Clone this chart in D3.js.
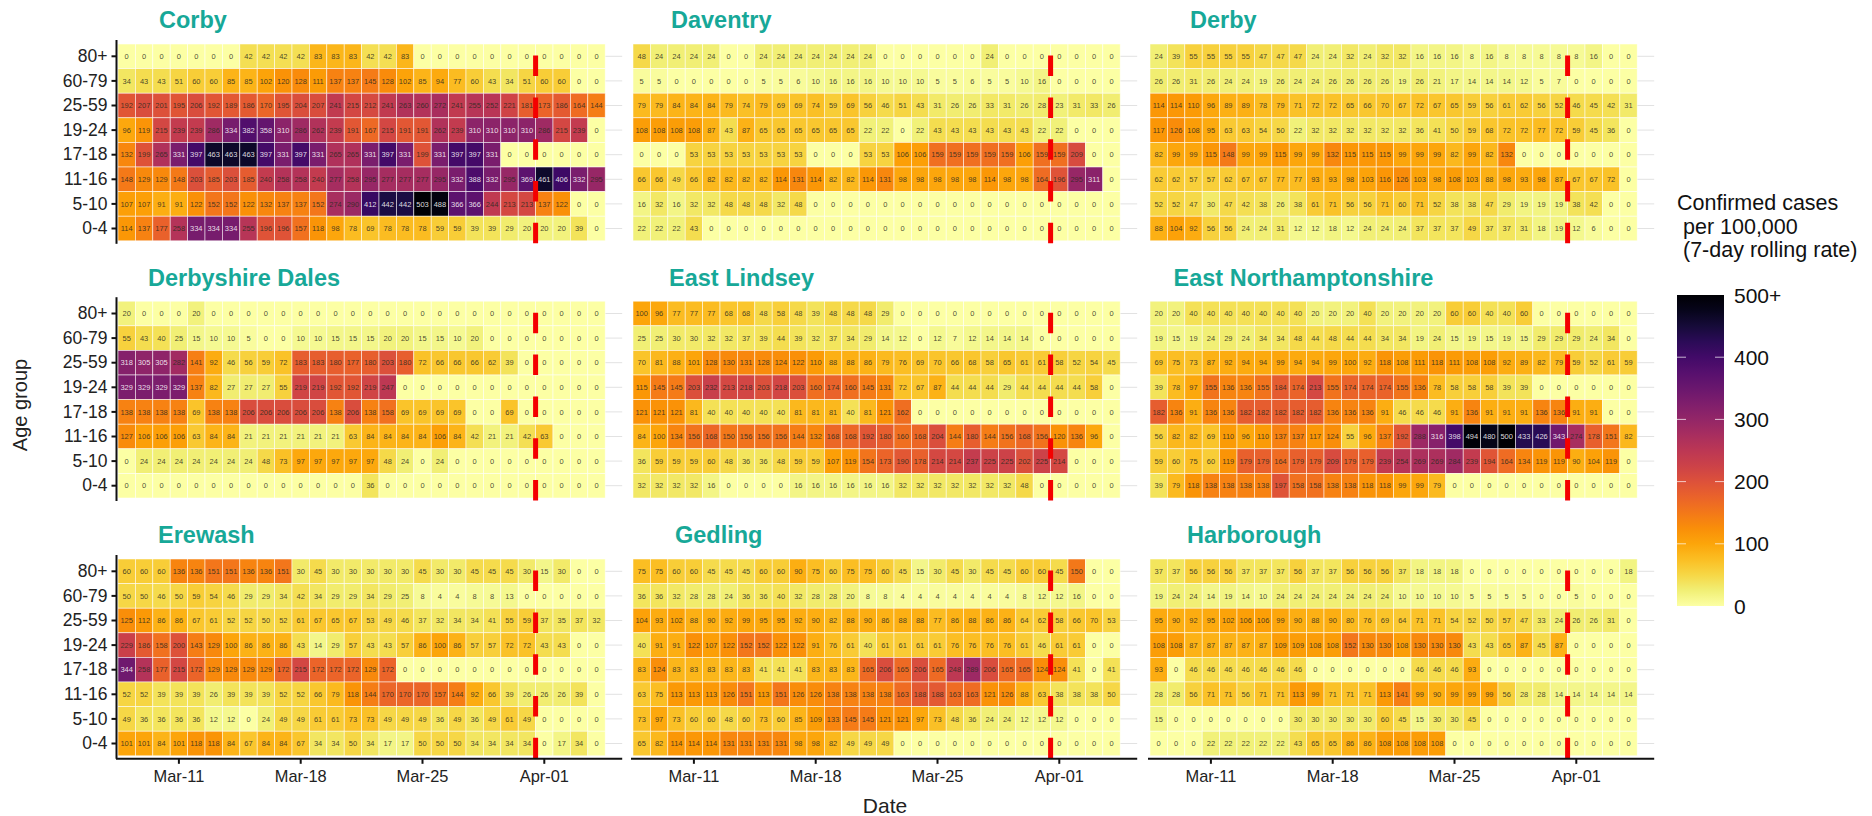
<!DOCTYPE html>
<html>
<head>
<meta charset="utf-8">
<script src="https://cdn.jsdelivr.net/npm/d3@7"></script>
<style>
    html, body { margin: 0; background: #fff; }
    svg { display: block; }
    text { font-family: "Liberation Sans", Arial, sans-serif; }
    .axis path, .axis line { stroke: #111; stroke-width: 2; }
    .axis text { font-size: 16.4px; fill: #222; }
</style>
</head>
<body>
<svg id="chart" width="1872" height="816"></svg>
<script>
const ageGroups = ["80+", "60-79", "25-59", "19-24", "17-18", "11-16", "5-10", "0-4"];
const dates = ["Mar-08", "Mar-09", "Mar-10", "Mar-11", "Mar-12", "Mar-13", "Mar-14", "Mar-15", "Mar-16", "Mar-17",
    "Mar-18", "Mar-19", "Mar-20", "Mar-21", "Mar-22", "Mar-23", "Mar-24", "Mar-25", "Mar-26", "Mar-27",
    "Mar-28", "Mar-29", "Mar-30", "Mar-31", "Apr-01", "Apr-02", "Apr-03", "Apr-04"];
const dateTicks = ["Mar-11", "Mar-18", "Mar-25", "Apr-01"];
const legendTicks = [0, 100, 200, 300, 400, 500];
const legendTitle = ["Confirmed cases", " per 100,000", " (7-day rolling rate)"];
const districts = ["Corby", "Daventry", "Derby", "Derbyshire Dales", "East Lindsey", "East Northamptonshire", "Erewash", "Gedling", "Harborough"];

// one row per age group, top to bottom, one value per day
const corby = [
    [0,0,0,0,0,0,0,42,42,42,42,83,83,83,42,42,83,0,0,0,0,0,0,0,0,0,0,0],
    [34,43,43,51,60,60,85,85,102,120,128,111,137,137,145,128,102,85,94,77,60,43,34,51,60,60,0,0],
    [192,207,201,195,206,192,189,186,170,195,204,207,241,215,212,241,263,260,272,241,255,252,221,181,173,186,164,144],
    [96,119,215,239,239,286,334,382,358,310,286,262,239,191,167,215,191,191,262,239,310,310,310,310,286,215,239,0],
    [132,199,265,331,397,463,463,463,397,331,397,331,265,265,331,397,331,199,331,397,397,331,0,0,0,0,0,0],
    [148,129,129,148,203,185,203,185,240,258,258,240,277,258,295,277,277,277,295,332,388,332,295,369,461,406,332,295],
    [107,107,91,91,122,152,152,122,132,137,137,152,274,290,412,442,442,503,488,366,366,244,213,213,137,122,0,0],
    [114,137,177,258,334,334,334,255,196,196,157,118,98,78,69,78,78,78,59,59,39,39,29,20,20,20,39,0]
];
const daventry = [
    [48,24,24,24,24,0,0,24,24,24,24,24,24,24,0,0,0,0,0,0,24,0,0,0,0,0,0,0],
    [5,5,0,0,0,0,0,5,5,6,10,16,16,16,10,10,10,5,5,6,5,5,10,16,0,0,0,0],
    [79,79,84,84,84,79,74,79,69,69,74,59,69,56,46,51,43,31,26,26,33,31,26,28,23,31,33,26],
    [108,108,108,108,87,43,87,65,65,65,65,65,65,22,22,0,22,43,43,43,43,43,43,22,22,0,0,0],
    [0,0,0,53,53,53,53,53,53,53,0,0,0,53,53,106,106,159,159,159,159,159,106,159,159,209,0,0],
    [66,66,49,66,82,82,82,82,114,131,114,82,82,114,131,98,98,98,98,98,114,98,98,164,196,295,311,0],
    [16,32,16,32,32,48,48,48,32,48,0,0,0,0,0,0,0,0,0,0,0,0,0,0,0,0,0,0],
    [22,22,22,43,0,0,0,0,0,0,0,0,0,0,0,0,0,0,0,0,0,0,0,0,0,0,0,0]
];
const derby = [
    [24,39,55,55,55,55,47,47,47,24,24,32,24,32,32,16,16,16,8,16,8,8,8,8,8,16,0,0],
    [26,26,31,26,24,24,19,26,24,24,26,26,26,26,19,26,21,17,14,14,14,12,5,7,0,0,0,0],
    [114,114,110,96,89,89,78,79,71,72,72,65,66,70,67,72,67,65,59,56,61,62,56,52,46,45,42,31],
    [117,126,108,95,63,63,54,50,22,32,32,32,32,32,32,36,41,50,59,68,72,72,77,72,59,45,36,0],
    [82,99,99,115,148,99,99,115,99,99,132,115,115,115,99,99,99,82,99,82,132,0,0,0,0,0,0,0],
    [62,62,57,57,62,67,67,77,77,93,93,98,103,116,126,103,98,108,103,88,98,93,98,87,67,67,72,0],
    [52,52,47,30,47,42,38,26,38,61,71,56,56,71,60,71,52,38,38,47,29,19,19,19,38,42,0,0],
    [88,104,92,56,56,24,24,31,12,12,18,12,24,24,24,37,37,37,49,37,37,31,18,19,12,6,0,0]
];
const derbyshireDales = [
    [20,0,0,0,20,0,0,0,0,0,0,0,0,0,0,0,0,0,0,0,0,0,0,0,0,0,0,0],
    [55,43,40,25,15,10,10,5,0,0,10,10,15,15,15,20,20,15,15,10,20,0,0,0,0,0,0,0],
    [318,305,305,282,141,92,46,56,59,72,183,183,180,177,180,203,180,72,66,66,66,62,39,0,0,0,0,0],
    [329,329,329,329,137,82,27,27,27,55,219,219,192,192,219,247,0,0,0,0,0,0,0,0,0,0,0,0],
    [138,138,138,138,69,138,138,206,206,206,206,206,138,206,138,158,69,69,69,69,0,0,69,0,0,0,0,0],
    [127,106,106,106,63,84,84,21,21,21,21,21,21,63,84,84,84,84,106,84,42,21,21,42,63,0,0,0],
    [0,24,24,24,24,24,24,24,48,73,97,97,97,97,97,48,24,0,24,0,0,0,0,0,0,0,0,0],
    [0,0,0,0,0,0,0,0,0,0,0,0,0,0,36,0,0,0,0,0,0,0,0,0,0,0,0,0]
];
const eastLindsey = [
    [100,96,77,77,77,68,68,48,58,48,39,48,48,48,29,0,0,0,0,0,0,0,0,0,0,0,0,0],
    [25,25,30,30,32,32,37,39,44,39,32,37,34,29,14,12,0,12,7,12,14,14,14,0,0,0,0,0],
    [70,81,88,101,128,130,131,128,124,122,110,88,88,86,79,76,69,70,66,68,58,65,61,61,58,52,54,45],
    [115,145,145,203,232,213,218,203,218,203,160,174,160,145,131,72,67,87,44,44,44,29,44,44,44,44,58,0],
    [121,121,121,81,40,40,40,40,40,81,81,81,40,81,121,162,0,0,0,0,0,0,0,0,0,0,0,0],
    [84,100,134,156,168,150,156,156,156,144,132,168,168,192,180,160,168,204,144,180,144,156,168,156,120,136,96,0],
    [36,59,59,59,60,48,36,36,48,59,59,107,119,154,173,190,178,214,214,237,225,225,202,225,214,0,0,0],
    [32,32,32,32,16,0,0,0,0,16,16,16,16,16,16,32,32,32,32,32,32,32,48,0,0,0,0,0]
];
const eastNorthamptonshire = [
    [20,20,40,40,40,40,40,40,40,20,20,20,40,20,20,20,20,60,60,40,40,60,0,0,0,0,0,0],
    [19,15,19,24,29,24,34,34,48,44,48,44,44,34,34,19,24,15,19,15,19,15,29,29,29,24,34,0],
    [69,75,73,87,92,94,94,99,94,94,99,100,92,118,108,111,118,111,108,108,92,89,82,79,59,52,61,59],
    [39,78,97,155,136,136,155,184,174,213,155,174,174,174,155,136,78,58,58,58,39,39,0,0,0,0,0,0],
    [182,136,91,136,136,182,182,182,182,182,136,136,136,91,46,46,46,91,136,91,91,91,136,136,91,91,0,0],
    [56,82,82,69,110,96,110,137,137,117,124,55,96,137,192,288,316,398,494,480,500,433,426,343,274,178,151,82],
    [59,60,75,60,119,179,179,164,179,179,209,179,179,239,254,269,269,284,239,194,164,134,119,119,90,104,119,0],
    [39,79,118,138,138,138,138,197,158,158,138,138,118,118,99,99,79,0,0,0,0,0,0,0,0,0,0,0]
];
const erewash = [
    [60,60,60,136,136,151,151,136,136,151,30,45,30,30,30,30,30,45,30,30,45,45,45,30,15,30,0,0],
    [50,50,46,50,59,54,46,29,29,34,42,34,29,29,34,29,25,8,4,4,8,8,13,0,0,0,0,0],
    [125,112,86,86,67,61,52,52,50,52,61,67,65,67,53,49,46,37,32,34,34,41,55,59,37,35,37,32],
    [229,186,158,200,143,129,100,86,86,86,43,14,29,57,43,43,57,86,100,86,57,57,72,72,43,43,0,0],
    [344,258,177,215,172,129,129,129,129,172,215,172,172,172,129,172,0,0,0,0,0,0,0,0,0,0,0,0],
    [52,52,39,39,39,26,39,39,39,52,52,66,79,118,144,170,170,170,157,144,92,66,39,26,26,26,39,0],
    [49,36,36,36,36,12,12,0,24,49,49,61,61,73,73,49,49,49,36,49,36,49,61,49,0,0,0,0],
    [101,101,84,101,118,118,84,67,84,84,67,34,34,50,34,17,17,50,50,50,34,34,34,34,0,17,34,0]
];
const gedling = [
    [75,75,60,60,45,45,45,60,60,90,75,60,75,75,60,45,15,30,45,30,45,45,60,60,45,150,0,0],
    [36,36,32,28,28,24,36,36,40,32,28,28,20,8,8,4,4,4,4,4,4,4,8,12,12,16,0,0],
    [104,93,102,88,90,92,99,95,95,92,90,82,88,90,86,88,88,77,86,88,86,86,64,62,58,66,70,53],
    [40,91,91,122,107,122,152,152,122,122,91,76,61,40,61,61,61,61,76,76,76,76,61,46,61,61,0,0],
    [83,124,83,83,83,83,83,41,41,41,83,83,83,165,206,165,206,165,248,289,206,165,165,124,124,41,0,41],
    [63,75,113,113,113,126,151,113,151,126,126,138,138,138,138,163,188,188,163,163,121,126,88,63,38,38,38,50],
    [73,97,73,60,60,48,60,73,60,85,109,133,145,145,121,121,97,73,48,36,24,24,12,12,12,0,0,0],
    [65,82,114,114,114,131,131,131,131,98,98,82,49,49,49,0,0,0,0,0,0,0,0,0,0,0,0,0]
];
const harborough = [
    [37,37,56,56,56,37,37,37,56,37,37,56,56,56,37,18,18,18,0,0,0,0,0,0,0,0,0,18],
    [19,24,24,14,19,14,10,24,24,24,24,24,24,24,10,10,10,10,5,5,5,5,0,0,5,0,0,0],
    [95,90,92,95,102,106,106,99,90,88,90,80,76,69,64,71,71,54,52,50,57,47,33,24,26,26,31,0],
    [108,108,87,87,87,87,87,109,109,108,108,152,130,130,108,130,130,130,43,43,65,87,45,87,0,0,0,0],
    [93,0,46,46,46,46,46,46,46,0,0,0,0,0,0,46,46,46,93,0,0,0,0,0,0,0,0,0],
    [28,28,56,71,71,56,71,71,113,99,71,71,71,113,141,99,90,99,99,99,56,28,28,14,14,14,14,14],
    [15,0,0,0,0,0,0,0,30,30,30,30,30,60,45,15,30,30,45,0,0,0,0,0,0,0,0,0],
    [0,0,0,22,22,22,22,22,43,65,65,86,86,108,108,108,108,0,0,0,0,0,0,0,0,0,0,0]
];
const districtRows = [corby, daventry, derby, derbyshireDales, eastLindsey, eastNorthamptonshire, erewash, gedling, harborough];

// layout
const panelLeft = [118, 633, 1150];
const panelTop = [44, 301.2, 559];
const titleX = [159, 671, 1190, 148, 669, 1173.5, 158, 675, 1187];
const titleY = [28, 285.5, 543];
const cellW = 17.4, cellH = 24.6, panelW = 28 * cellW, panelH = 8 * cellH;

const svg = d3.select("#chart");
const color = d3.scaleSequential(t => d3.interpolateInferno(1 - t)).domain([0, 500]);

districts.forEach((name, i) => {
    const col = i % 3, row = Math.floor(i / 3);
    const x = d3.scaleBand().domain(dates).range([panelLeft[col], panelLeft[col] + panelW]);
    const y = d3.scaleBand().domain(ageGroups).range([panelTop[row], panelTop[row] + panelH]);
    const right = panelLeft[col] + panelW + 17;
    const bottom = panelTop[row] + panelH;
    const cells = districtRows[i].flatMap((vals, r) => vals.map((v, d) => ({age: ageGroups[r], date: dates[d], v})));
    const g = svg.append("g");

    g.selectAll(".grid")
        .data(ageGroups)
        .join("line")
        .attr("x1", panelLeft[col]).attr("x2", right)
        .attr("y1", d => y(d) + y.bandwidth() / 2).attr("y2", d => y(d) + y.bandwidth() / 2)
        .attr("stroke", "#e2e2e2").attr("stroke-width", 1);

    g.selectAll("rect")
        .data(cells)
        .join("rect")
        .attr("x", d => x(d.date)).attr("y", d => y(d.age))
        .attr("width", x.bandwidth()).attr("height", y.bandwidth())
        .attr("fill", d => color(d.v))
        .attr("stroke", "#fff").attr("stroke-opacity", 0.75).attr("stroke-width", 0.7);

    g.selectAll(".val")
        .data(cells)
        .join("text")
        .attr("x", d => x(d.date) + x.bandwidth() / 2)
        .attr("y", d => y(d.age) + y.bandwidth() / 2 + 2.6)
        .attr("text-anchor", "middle")
        .style("font-size", "7.5px")
        .attr("fill", d => d.v >= 300 ? "#fff" : "#2b2b20")
        .attr("fill-opacity", 0.85)
        .text(d => d.v);

    // dashed line on 1 April, dashes counted from the bottom
    g.append("line")
        .attr("x1", x("Apr-01")).attr("x2", x("Apr-01"))
        .attr("y1", bottom + 2.5).attr("y2", panelTop[row] + 11)
        .attr("stroke", "#f40000").attr("stroke-width", 5)
        .attr("stroke-dasharray", "20.5 21.3");

    g.append("text")
        .attr("x", titleX[i]).attr("y", titleY[row])
        .attr("fill", "#17a898")
        .style("font-size", "23.5px").style("font-weight", "bold")
        .text(name);

    if (col === 0) {
        g.append("g")
            .attr("class", "axis")
            .attr("transform", `translate(${panelLeft[col] - 1.5},0)`)
            .call(d3.axisLeft(y).tickSize(5).tickSizeOuter(0))
            .call(a => a.select(".domain").attr("d", `M0,${panelTop[row] - 4}V${bottom + 3}`))
            .call(a => a.selectAll("text").style("font-size", "17.5px").attr("dx", "-1"));
    }
    if (row === 2) {
        g.append("g")
            .attr("class", "axis")
            .attr("transform", `translate(0,${bottom + 3})`)
            .call(d3.axisBottom(x).tickValues(dateTicks).tickSize(5).tickSizeOuter(0))
            .call(a => a.select(".domain").attr("d", `M${panelLeft[col] - 2},0H${right}`))
            .call(a => a.selectAll("text").attr("dy", "0.95em"));
    }
});

svg.append("text")
    .attr("transform", "translate(27,405) rotate(-90)")
    .attr("text-anchor", "middle")
    .style("font-size", "20px").attr("fill", "#222")
    .text("Age group");

svg.append("text")
    .attr("x", 885).attr("y", 813)
    .attr("text-anchor", "middle")
    .style("font-size", "21px").attr("fill", "#222")
    .text("Date");

// legend
const legendX = 1677, legendW = 47;
const legendY = d3.scaleLinear().domain([0, 500]).range([606, 295]);
const gradient = svg.append("defs").append("linearGradient")
    .attr("id", "ramp").attr("x1", 0).attr("x2", 0).attr("y1", 1).attr("y2", 0);
d3.range(0, 1.001, 0.05).forEach(t => {
    gradient.append("stop").attr("offset", t).attr("stop-color", color(t * 500));
});

svg.selectAll(".legend-title")
    .data(legendTitle)
    .join("text")
    .attr("x", legendX).attr("y", (d, i) => 210 + i * 23.5)
    .attr("xml:space", "preserve").style("white-space", "pre")
    .style("font-size", "21.5px").attr("fill", "#111")
    .text(d => d);

svg.append("rect")
    .attr("x", legendX).attr("y", legendY(500))
    .attr("width", legendW).attr("height", legendY(0) - legendY(500))
    .attr("fill", "url(#ramp)");

legendTicks.forEach(v => {
    svg.append("text")
        .attr("x", legendX + legendW + 10).attr("y", legendY(v) + 7.5)
        .style("font-size", "21px").attr("fill", "#111")
        .text(v === 500 ? "500+" : v);
    if (v > 0 && v < 500) {
        [[legendX, legendX + 9], [legendX + legendW - 9, legendX + legendW]].forEach(ends => {
            svg.append("line")
                .attr("x1", ends[0]).attr("x2", ends[1])
                .attr("y1", legendY(v)).attr("y2", legendY(v))
                .attr("stroke", "#fff").attr("stroke-opacity", 0.7).attr("stroke-width", 1);
        });
    }
});
</script>
</body>
</html>
